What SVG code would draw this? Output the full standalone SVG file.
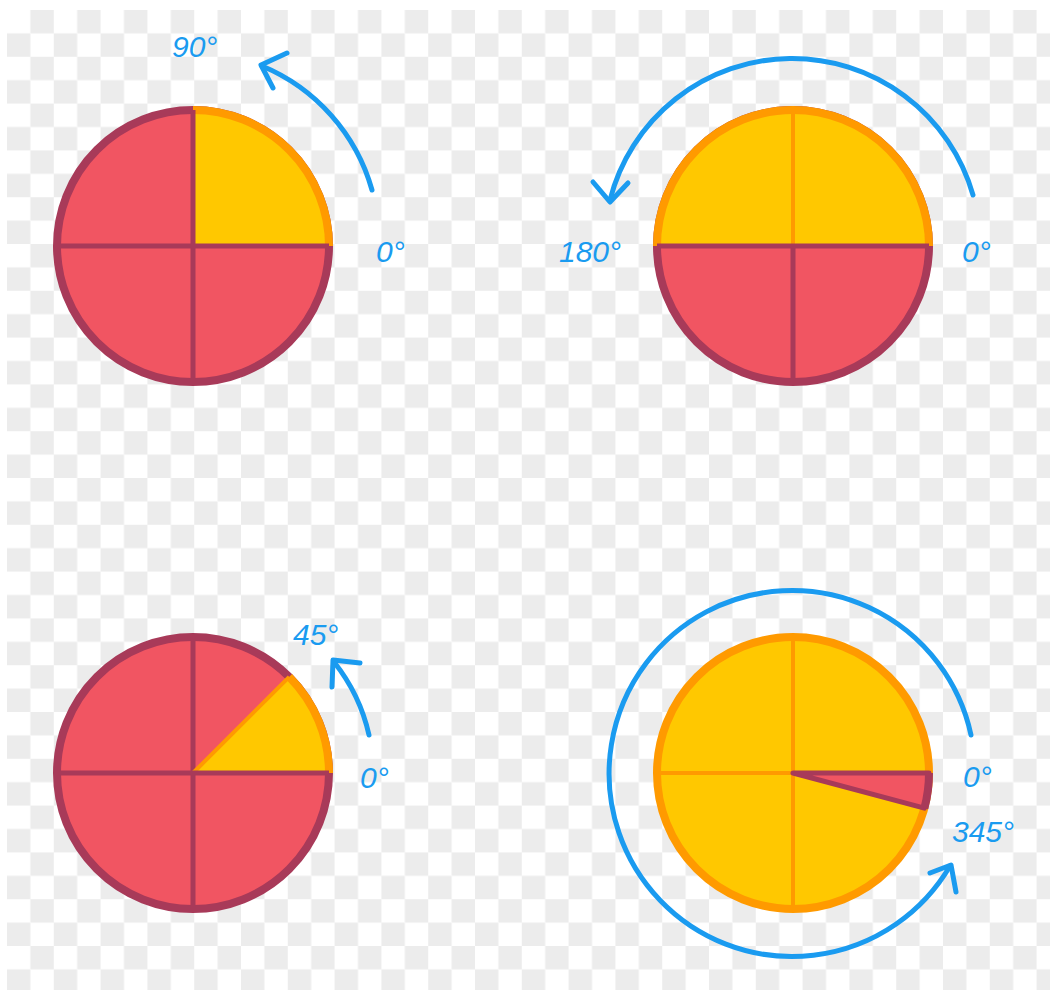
<svg xmlns="http://www.w3.org/2000/svg" width="1050" height="990" viewBox="0 0 1050 990">
  <defs>
    <pattern id="checker" x="7" y="10" width="46.8" height="46.8" patternUnits="userSpaceOnUse">
      <rect x="23.4" y="0" width="23.4" height="23.4" fill="#ececec"/>
      <rect x="0" y="23.4" width="23.4" height="23.4" fill="#ececec"/>
    </pattern>
  </defs>
  <style>
    .red { fill: #f15562; }
    .yellow { fill: #ffc800; }
    .rim-red { fill: none; stroke: #a83a59; stroke-width: 8; }
    .rim-yel { fill: none; stroke: #ff9a00; stroke-width: 8; }
    .div-red { stroke: #a83a59; stroke-width: 5; fill: none; }
    .div-yel { stroke: #ff9a00; stroke-width: 4; fill: none; }
    .arrow { fill: none; stroke: #1a9bf0; stroke-width: 5; stroke-linecap: round; stroke-linejoin: round; }
    .lbl { font-family: "Liberation Sans", "DejaVu Sans", sans-serif; font-style: italic; font-size: 30px; fill: #1a9bf0; }
  </style>

  <rect x="0" y="0" width="1050" height="990" fill="#ffffff"/>
  <rect x="7" y="10" width="1043" height="980" fill="url(#checker)"/>

  <!-- Top-left: 90 degrees -->
  <g id="pie-90">
    <circle cx="193" cy="246" r="136" class="red"/>
    <circle cx="193" cy="246" r="136" class="rim-red"/>
    <path d="M193,246 L329,246 A136,136 0 0,0 193,110 Z" class="yellow"/>
    <path d="M329,246 A136,136 0 0,0 193,110" class="rim-yel"/>
    <line x1="57" y1="246" x2="329" y2="246" class="div-red"/>
    <line x1="193" y1="110" x2="193" y2="382" class="div-red"/>
  </g>

  <!-- Top-right: 180 degrees -->
  <g id="pie-180">
    <circle cx="793" cy="246" r="136" class="red"/>
    <circle cx="793" cy="246" r="136" class="rim-red"/>
    <path d="M657,246 A136,136 0 0,1 929,246 Z" class="yellow"/>
    <path d="M657,246 A136,136 0 0,1 929,246" class="rim-yel"/>
    <line x1="793" y1="110" x2="793" y2="246" class="div-yel"/>
    <line x1="793" y1="246" x2="793" y2="382" class="div-red"/>
    <line x1="657" y1="246" x2="929" y2="246" class="div-red"/>
  </g>

  <!-- Bottom-left: 45 degrees -->
  <g id="pie-45">
    <circle cx="193" cy="773" r="136" class="red"/>
    <circle cx="193" cy="773" r="136" class="rim-red"/>
    <line x1="193" y1="637" x2="193" y2="909" class="div-red"/>
    <path d="M193,773 L329,773 A136,136 0 0,0 289.2,676.8 Z" class="yellow"/>
    <line x1="193" y1="773" x2="289.2" y2="676.8" class="div-yel"/>
    <path d="M329,773 A136,136 0 0,0 289.2,676.8" class="rim-yel"/>
    <line x1="57" y1="773" x2="329" y2="773" class="div-red"/>
  </g>

  <!-- Bottom-right: 345 degrees -->
  <g id="pie-345">
    <circle cx="793" cy="773" r="136" class="yellow"/>
    <circle cx="793" cy="773" r="136" class="rim-yel"/>
    <line x1="657" y1="773" x2="929" y2="773" class="div-yel"/>
    <line x1="793" y1="637" x2="793" y2="909" class="div-yel"/>
    <path d="M793,773 L929,773 A136,136 0 0,1 924.4,808.2 Z" class="red" stroke="#a83a59" stroke-width="5" stroke-linejoin="round"/>
    <path d="M929,773 A136,136 0 0,1 924.4,808.2" class="rim-red"/>
  </g>

  <!-- Rotation arrows -->
  <g id="connectors">
    <path d="M372,190 A190,190 0 0,0 262,66" class="arrow"/>
    <path d="M287,53 L261,65 L273,88" class="arrow"/>

    <path d="M973,195 A188,188 0 0,0 610,200" class="arrow"/>
    <path d="M593,182 L610,202 L628,183" class="arrow"/>

    <path d="M369,735 A180,180 0 0,0 334,662" class="arrow"/>
    <path d="M360,663 L333,660 L332,687" class="arrow"/>

    <path d="M971,735 A183,183 0 1,0 950,866" class="arrow"/>
    <path d="M930,873 L951,865 L956,892" class="arrow"/>
  </g>

  <!-- Labels -->
  <g id="labels">
    <text x="172" y="57" class="lbl">90°</text>
    <text x="376" y="262" class="lbl">0°</text>
    <text x="559" y="262" class="lbl">180°</text>
    <text x="962" y="262" class="lbl">0°</text>
    <text x="293" y="645" class="lbl">45°</text>
    <text x="360" y="788" class="lbl">0°</text>
    <text x="963" y="787" class="lbl">0°</text>
    <text x="952" y="842" class="lbl">345°</text>
  </g>
</svg>
